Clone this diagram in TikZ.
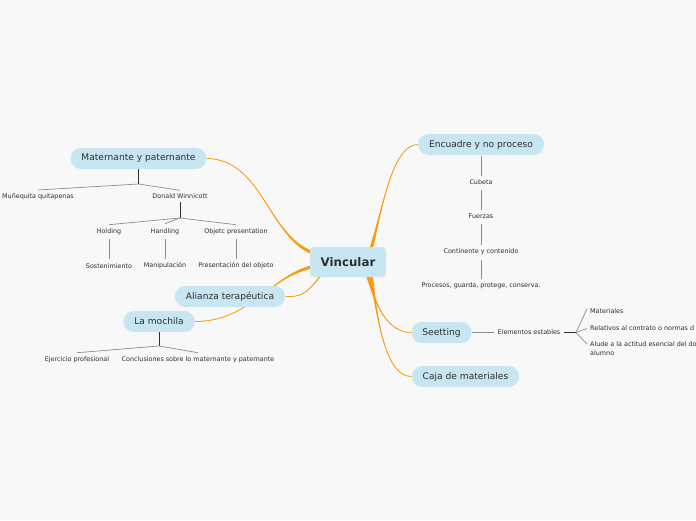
\documentclass[tikz,border=0pt]{standalone}
\usepackage{fontspec}
\setmainfont{DejaVu Sans}
\pgfdeclarelayer{bg}
\pgfdeclarelayer{background}
\pgfsetlayers{bg,background,main}
\definecolor{pagebg}{HTML}{F8F8F8}
\definecolor{nodefill}{HTML}{C7E6F1}
\definecolor{branch}{HTML}{FF9A0D}
\definecolor{txt}{HTML}{2E2E2E}
\definecolor{twig}{HTML}{8C8C8C}
\tikzset{
  pill/.style={fill=nodefill, rounded corners=10.5pt, minimum height=21pt, inner xsep=11pt, inner ysep=0pt, text=txt, font=\fontsize{9.1}{10}\selectfont},
  central/.style={fill=nodefill, rounded corners=4pt, minimum height=30pt, minimum width=76pt, text=txt, font=\fontsize{11.8}{13}\selectfont\bfseries},
  leaf/.style={inner sep=1pt, text=txt, font=\fontsize{6.4}{9}\selectfont},
  twigline/.style={draw=twig, line width=0.7pt},
  stem/.style={draw=txt, line width=1pt},
  branchline/.style={draw=branch, line width=0.8pt},
  branchfill/.style={fill=branch},
}
\newcommand{\vconn}[6]{%
  \fill[branchfill] #1 .. controls #3 and #4 .. #5 .. controls #4 and #3 .. #2 -- cycle;
  \draw[branchline] #6 .. controls #3 and #4 .. #5;}
\begin{document}
\begin{tikzpicture}[x=1pt,y=-1pt]
\begin{pgfonlayer}{bg}
\fill[pagebg] (0,-1) rectangle (696,519);
\end{pgfonlayer}
\useasboundingbox (0,-1) rectangle (696,519);

% main nodes
\node[central] (vin) at (348,261) {Vincular};
\node[pill] (mat) at (138.5,157.5) {Maternante y paternante};
\node[pill] (enc) at (481,143.5) {Encuadre y no proceso};
\node[pill] (ali) at (230,295.5) {Alianza terapéutica};
\node[pill] (moc) at (159,320.5) {La mochila};
\node[pill] (see) at (441.5,331.5) {Seetting};
\node[pill] (caj) at (465.5,375.5) {Caja de materiales};

% leaves of Maternante
\node[leaf] (mun) at (38,195.5) {Muñequita quitapenas};
\node[leaf] (don) at (180,195.5) {Donald Winnicott};
\node[leaf] (hol) at (109,230.5) {Holding};
\node[leaf] (han) at (165,230.5) {Handling};
\node[leaf] (obj) at (236,230.5) {Objetc presentation};
\node[leaf] (sos) at (109,265) {Sostenimiento};
\node[leaf] (man) at (165,265) {Manipulación};
\node[leaf] (pre) at (236,265) {Presentación del objeto};

% leaves of La mochila
\node[leaf] (eje) at (77,358.5) {Ejercicio profesional};
\node[leaf] (con) at (198,358.5) {Conclusiones sobre lo maternante y paternante};

% leaves of Encuadre
\node[leaf] (cub) at (481,181.5) {Cubeta};
\node[leaf] (fue) at (481,215.5) {Fuerzas};
\node[leaf] (cyc) at (481,250.5) {Continente y contenido};
\node[leaf] (pro) at (481,284.5) {Procesos, guarda, protege, conserva.};

% leaves of Seetting
\node[leaf] (ele) at (529,331.5) {Elementos estables};
\node[leaf, anchor=west] (mtl) at (589,310.5) {Materiales};
\node[leaf, anchor=west] (rel) at (589,327.5) {Relativos al contrato o normas d};
\node[leaf, anchor=north west, align=left] (alu) at (589,339) {Alude a la actitud esencial del do\\alumno};

% branch points
\coordinate (jm) at (138.5,183);
\coordinate (jd) at (180,217);
\coordinate (jl) at (159,345);
\coordinate (je) at (576,331.5);

\begin{pgfonlayer}{background}
% orange branches
\vconn{(313.8,250.4)}{(312.2,253.6)}{(268,235)}{(262,158)}{(mat.east)}{(313,252)}
\vconn{(369.2,248)}{(372.8,248)}{(382,210)}{(392,143.5)}{(enc.west)}{(371,248)}
\vconn{(311.6,264.2)}{(312.4,267.8)}{(270,275)}{(250,320.5)}{(moc.east)}{(312,266)}
\vconn{(320.5,273.5)}{(321.5,274.5)}{(306,294)}{(300,296)}{(ali.east)}{(321,274)}
\vconn{(366.3,275)}{(369.7,275)}{(375,305)}{(388,331.5)}{(see.west)}{(368,275)}
\vconn{(369.5,275)}{(372.9,275)}{(378,322)}{(386,375.5)}{(caj.west)}{(371,275)}
\end{pgfonlayer}

% gray sub-branches
\draw[stem] (mat.south) -- (jm);
\draw[twigline] (jm) -- (38,189);
\draw[twigline] (jm) -- ([yshift=2.5pt]don.north);
\draw[stem] ([yshift=-2pt]don.south) -- (jd);
\draw[twigline] (jd) -- ([yshift=2.5pt]hol.north);
\draw[twigline] (jd) -- ([yshift=3.5pt]han.north);
\draw[twigline] (jd) -- ([yshift=2.5pt]obj.north);
\draw[twigline] ([yshift=-3.5pt]hol.south) -- ([yshift=3pt]sos.north);
\draw[twigline] ([yshift=-3.5pt]han.south) -- ([yshift=3pt]man.north);
\draw[twigline] ([yshift=-3.5pt]obj.south) -- ([yshift=3pt]pre.north);

\draw[stem] (moc.south) -- (jl);
\draw[twigline] (jl) -- ([yshift=2.5pt]eje.north);
\draw[twigline] (jl) -- ([yshift=2.5pt]con.north);

\draw[twigline] ([yshift=-1pt]enc.south) -- ([yshift=2.5pt]cub.north);
\draw[twigline] ([yshift=-4pt]cub.south) -- ([yshift=2.5pt]fue.north);
\draw[twigline] ([yshift=-4pt]fue.south) -- ([yshift=2.5pt]cyc.north);
\draw[twigline] ([yshift=-4pt]cyc.south) -- ([yshift=2.5pt]pro.north);

\draw[twigline] (see.east) -- ([xshift=-3pt]ele.west);
\draw[stem] ([xshift=2pt]ele.east) -- (je);
\draw[twigline] (je) -- ([xshift=-2pt,yshift=-1pt]mtl.north west);
\draw[twigline] (je) -- ([xshift=-2pt]rel.west);
\draw[twigline] (je) -- ([xshift=-2pt,yshift=-4pt]alu.north west);
\end{tikzpicture}
\end{document}
